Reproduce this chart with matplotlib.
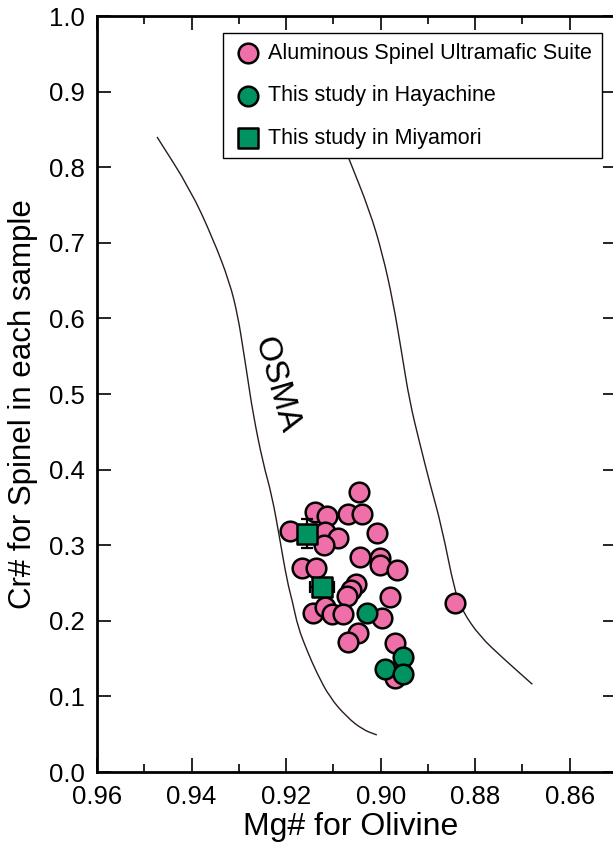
import numpy as np
import matplotlib
matplotlib.use("Agg")
import matplotlib.pyplot as plt
from matplotlib.path import Path
from matplotlib.patches import PathPatch

plt.rcParams["font.family"] = ["Liberation Sans", "DejaVu Sans"]

# OSMA (olivine-spinel mantle array) boundary curves
osma_left_x = [0.9473, 0.9403, 0.9355, 0.9319, 0.9302, 0.9291, 0.9283, 0.9270, 0.9249,
               0.9230, 0.9213, 0.9198, 0.9186, 0.9175, 0.9156, 0.9135, 0.9108, 0.9072,
               0.9038, 0.9008]
osma_left_y = [0.840, 0.771, 0.706, 0.647, 0.603, 0.560, 0.528, 0.474, 0.409,
               0.366, 0.307, 0.253, 0.224, 0.192, 0.161, 0.131, 0.099, 0.073,
               0.056, 0.049]
osma_right_x = [0.9067, 0.9023, 0.8996, 0.8974, 0.8955, 0.8939, 0.8917, 0.8896, 0.8871,
                0.8843, 0.8827, 0.8791, 0.8742, 0.8679]
osma_right_y = [0.811, 0.742, 0.685, 0.623, 0.553, 0.491, 0.434, 0.382, 0.325,
                0.238, 0.213, 0.180, 0.151, 0.116]

# Aluminous spinel ultramafic suite
asus_mg = [0.9046, 0.9139, 0.9114, 0.9070, 0.9040, 0.9192, 0.9118, 0.9091, 0.9120,
           0.9008, 0.9044, 0.9002, 0.9002, 0.8966, 0.9167, 0.9137, 0.9053, 0.9063,
           0.9072, 0.8981, 0.9144, 0.9118, 0.9103, 0.9080, 0.8998, 0.9048, 0.9070,
           0.8970, 0.8843, 0.8970]
asus_cr = [0.370, 0.344, 0.339, 0.341, 0.341, 0.319, 0.317, 0.310, 0.300,
           0.316, 0.284, 0.283, 0.274, 0.267, 0.270, 0.270, 0.249, 0.241,
           0.233, 0.231, 0.210, 0.218, 0.209, 0.209, 0.204, 0.184, 0.172,
           0.171, 0.224, 0.125]

# This study, Hayachine
hay_mg = [0.9029, 0.8953, 0.8991, 0.8953]
hay_cr = [0.210, 0.152, 0.136, 0.130]

# This study, Miyamori (with error bars)
miy_mg = [0.9156, 0.9124]
miy_cr = [0.315, 0.245]
miy_mg_err = [0.0, 0.0026]
miy_cr_err = [0.019, 0.0]

pink = "#EF6FA9"
green = "#009260"


def smooth_path(xs, ys):
    # quadratic bezier through midpoints, read points act as control points
    pts = np.column_stack([xs, ys])
    verts = [pts[0], (pts[0] + pts[1]) / 2]
    codes = [Path.MOVETO, Path.LINETO]
    for i in range(1, len(pts) - 1):
        verts += [pts[i], (pts[i] + pts[i + 1]) / 2]
        codes += [Path.CURVE3, Path.CURVE3]
    verts.append(pts[-1])
    codes.append(Path.LINETO)
    return Path(verts, codes)


fig = plt.figure(figsize=(6.13, 8.43), dpi=100)
ax = fig.add_axes([97 / 613, 71 / 843, 520 / 613, 756 / 843])

for xs, ys in [(osma_left_x, osma_left_y), (osma_right_x, osma_right_y)]:
    ax.add_patch(PathPatch(smooth_path(xs, ys), facecolor="none",
                           edgecolor="#2a1c1c", lw=1.0, zorder=1))
ax.text(0.9222, 0.512, "OSMA", rotation=-74, fontsize=24, ha="center", va="center")

ax.scatter(asus_mg, asus_cr, s=200, c=pink, edgecolors="black", linewidths=1.8,
           zorder=3, label="Aluminous Spinel Ultramafic Suite")
ax.scatter(hay_mg, hay_cr, s=200, c=green, edgecolors="black", linewidths=1.8,
           zorder=4, label="This study in Hayachine")
ax.errorbar(miy_mg, miy_cr, xerr=miy_mg_err, yerr=miy_cr_err, fmt="none",
            ecolor="black", elinewidth=1.6, capsize=4, capthick=1.6, zorder=5)
ax.scatter(miy_mg, miy_cr, s=190, marker="s", c=green, edgecolors="black",
           linewidths=1.8, zorder=6, label="This study in Miyamori")

ax.set_xlim(0.96, 0.85)
ax.set_ylim(0.0, 1.0)
ax.set_xticks(np.arange(0.96, 0.8499, -0.02))
ax.set_xticks(np.arange(0.95, 0.8499, -0.02), minor=True)
ax.set_yticks(np.arange(0, 1.01, 0.1))
ax.xaxis.set_major_formatter(matplotlib.ticker.FormatStrFormatter("%.2f"))
ax.yaxis.set_major_formatter(matplotlib.ticker.FormatStrFormatter("%.1f"))

ax.tick_params(which="both", direction="in", top=True, right=True, width=1.2)
ax.tick_params(which="major", length=10, labelsize=18.5, pad=9)
ax.tick_params(which="minor", length=6)
for s in ax.spines.values():
    s.set_linewidth(2.0)

ax.set_xlabel("Mg# for Olivine", fontsize=23)
ax.set_ylabel("Cr# for Spinel in each sample", fontsize=22.5)
ax.xaxis.set_label_coords(0.487, -0.053)
ax.yaxis.set_label_coords(-0.113, 0.487)

leg = ax.legend(loc="upper right", bbox_to_anchor=(602 / 613, 1 - 33 / 843),
                bbox_transform=fig.transFigure, borderaxespad=0, fontsize=15.5,
                frameon=True, fancybox=False, edgecolor="black", framealpha=1,
                handletextpad=0.25, labelspacing=1.0, borderpad=0.45,
                handlelength=1.4, scatterpoints=1)
leg.get_frame().set_linewidth(1.0)

fig.savefig("out.png", dpi=100)
